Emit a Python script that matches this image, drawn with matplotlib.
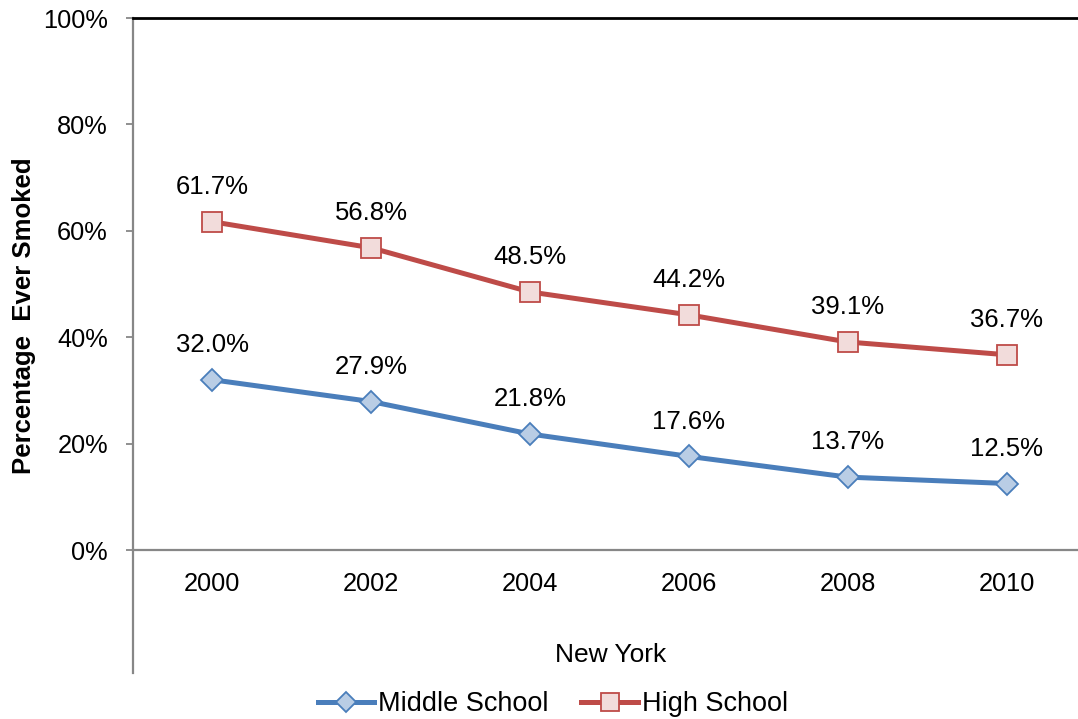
import matplotlib
matplotlib.use('Agg')
import matplotlib.pyplot as plt

plt.rcParams['font.family'] = ['Liberation Sans', 'DejaVu Sans']

years = ['2000', '2002', '2004', '2006', '2008', '2010']
middle_school = [32.0, 27.9, 21.8, 17.6, 13.7, 12.5]
high_school = [61.7, 56.8, 48.5, 44.2, 39.1, 36.7]
y_ticks = [0, 20, 40, 60, 80, 100]

blue, blue_fill = '#4A7EBB', '#B9CDE5'
red, red_fill = '#BE4B48', '#F2DCDB'
gray = '#878787'
fs = 18.3

fig = plt.figure(figsize=(10.78, 7.19), dpi=100)
ax = fig.add_axes([133 / 1078, 169 / 719, 953 / 1078, 532 / 719])

x = range(len(years))
ax.plot(x, middle_school, color=blue, lw=3.6, marker='D', ms=11.5,
        mfc=blue_fill, mec=blue, mew=1.3, label='Middle School')
ax.plot(x, high_school, color=red, lw=3.6, marker='s', ms=14,
        mfc=red_fill, mec=red, mew=1.3, label='High School')

for series in (middle_school, high_school):
    for i, v in enumerate(series):
        ax.annotate(f'{v:.1f}%', (i, v), xytext=(0, 25), textcoords='offset points',
                    ha='center', va='center', fontsize=18.5)

ax.set_xlim(-0.5, len(years) - 0.5)
ax.set_ylim(0, 100)
ax.set_xticks(list(x))
ax.set_xticklabels(years, fontsize=fs)
ax.set_yticks(y_ticks)
ax.set_yticklabels([f'{t}%' for t in y_ticks], fontsize=fs)
ax.tick_params(axis='x', length=0, pad=16)
ax.tick_params(axis='y', length=5, width=1.3, color=gray, pad=13)

ax.spines['right'].set_visible(False)
ax.spines['top'].set_color('black')
ax.spines['top'].set_linewidth(2)
ax.spines['bottom'].set_color(gray)
ax.spines['bottom'].set_linewidth(1.6)
ax.spines['left'].set_color(gray)
ax.spines['left'].set_linewidth(1.6)
ax.spines['left'].set_bounds(-23.1, 100)

fig.text(611 / 1078, 1 - 655 / 719, 'New York', ha='center', va='center', fontsize=19)
fig.text(24 / 1078, 1 - 316 / 719, 'Percentage  Ever Smoked', rotation=90,
         ha='center', va='center', fontsize=18.5, fontweight='bold')

fig.legend(loc='center', bbox_to_anchor=(553 / 1078, 1 - 704 / 719), ncol=2,
           frameon=False, fontsize=19.5, handlelength=2.1, handletextpad=0.15,
           columnspacing=1.2, markerscale=0.9)

fig.savefig('out.png', dpi=100)
